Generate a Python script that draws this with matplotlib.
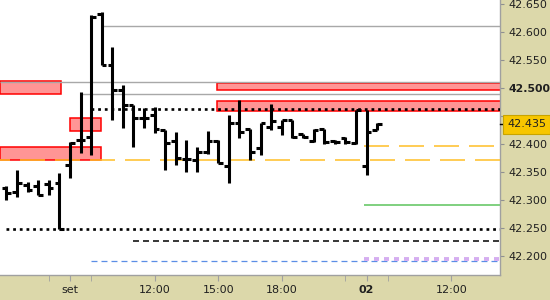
import numpy as np
import matplotlib
matplotlib.use("Agg")
import matplotlib.pyplot as plt
from matplotlib.patches import Rectangle

plt.rcParams["lines.scale_dashes"] = False

# barre da 30 minuti; indice 0 = prima barra del giorno "set"
idx = np.arange(-6, 30)
opens = [42.321, 42.314, 42.327, 42.325, 42.329, 42.330,
         42.362, 42.407, 42.412, 42.632, 42.541, 42.496, 42.470, 42.446, 42.452,
         42.425, 42.405, 42.373, 42.371, 42.386, 42.405, 42.361, 42.438, 42.427,
         42.393, 42.430, 42.430, 42.443, 42.418, 42.405, 42.427, 42.405, 42.411,
         42.402, 42.361, 42.425]
highs = [42.325, 42.354, 42.332, 42.336, 42.336, 42.348,
         42.404, 42.493, 42.630, 42.636, 42.573, 42.505, 42.470, 42.464, 42.466,
         42.425, 42.421, 42.407, 42.395, 42.423, 42.407, 42.452, 42.479, 42.427,
         42.438, 42.471, 42.443, 42.443, 42.418, 42.427, 42.427, 42.407, 42.413,
         42.461, 42.461, 42.437]
lows = [42.300, 42.305, 42.314, 42.309, 42.309, 42.248,
        42.339, 42.384, 42.380, 42.541, 42.443, 42.429, 42.395, 42.429, 42.420,
        42.354, 42.362, 42.350, 42.350, 42.382, 42.366, 42.330, 42.411, 42.371,
        42.380, 42.425, 42.416, 42.411, 42.411, 42.404, 42.400, 42.400, 42.400,
        42.400, 42.345, 42.425]
closes = [42.312, 42.330, 42.318, 42.309, 42.321, 42.248,
          42.402, 42.407, 42.627, 42.541, 42.496, 42.470, 42.446, 42.446, 42.427,
          42.402, 42.375, 42.373, 42.386, 42.405, 42.366, 42.438, 42.421, 42.386,
          42.438, 42.441, 42.443, 42.413, 42.413, 42.425, 42.404, 42.404, 42.404,
          42.461, 42.421, 42.435]

last_price = 42.435

tick_pos = [0, 8, 14, 20, 28, 36]
tick_lab = ["set", "12:00", "15:00", "18:00", "02", "12:00"]
minor_pos = [-2, 2, 26, 30]

y_ticks = [42.20, 42.25, 42.30, 42.35, 42.40, 42.45, 42.50, 42.55, 42.60, 42.65]

# zone rosse: (da, a, prezzo basso, prezzo alto)
zone = [(-6.6, -0.85, 42.489, 42.5125),
        (-6.6, 2.9, 42.3714, 42.3946),
        (0.0, 2.9, 42.4232, 42.4464),
        (13.9, 41.0, 42.4964, 42.5098),
        (13.9, 41.0, 42.4589, 42.4768)]

# livelli orizzontali: (inizio, prezzo)
grigi = [(2.9, 42.6107), (-6.6, 42.5107), (1.0, 42.4893)]
verde = (27.8, 42.2911)
punteggiati = [(2.0, 42.4616), (-6.0, 42.2482)]
tratteggio_nero = (6.0, 42.2268)
tratteggio_blu = (2.0, 42.191)
viola = (27.8, 42.1946)
arancio = [(-6.6, 42.3714, 10.8), (27.8, 42.3964, 0.0)]

x_min, x_max = -6.6, 40.6
x_end = 41.0

fig = plt.figure(figsize=(5.5, 3), dpi=100, facecolor="#dcd8aa")
ax = fig.add_axes([0, 25 / 300, 500 / 550, 275 / 300])
ax.set_facecolor("white")

for x0, x1, y0, y1 in zone:
    ax.add_patch(Rectangle((x0, y0), x1 - x0, y1 - y0, fc="#ff9595",
                           ec="#ff0000", lw=1.1, zorder=1))

for x0, y in grigi:
    ax.hlines(y, x0, x_end, color="#a8a8a8", lw=1.0, zorder=2)
ax.hlines(verde[1], verde[0], x_end, color="#5cc35c", lw=1.1, zorder=2)
for x0, y in punteggiati:
    ax.plot([x0, x_end], [y, y], color="black", lw=1.9,
            linestyle=(0, (2.0, 2.8)), zorder=3)
ax.plot([tratteggio_nero[0], x_end], [tratteggio_nero[1]] * 2, color="black",
        lw=1.1, linestyle=(0, (4.3, 2.9)), zorder=2)
ax.plot([tratteggio_blu[0], x_end], [tratteggio_blu[1]] * 2, color="#5b8ee6",
        lw=0.9, linestyle=(0, (4.3, 2.9)), zorder=2)
ax.plot([viola[0], x_end], [viola[1]] * 2, color="#d5aef0",
        lw=2.8, linestyle=(0, (3.6, 3.6)), zorder=2)
for x0, y, off in arancio:
    ax.plot([x0, x_end], [y, y], color="#ffbf26", lw=1.1,
            linestyle=(off, (18.0, 7.2)), zorder=3)

# barre OHLC
ax.vlines(idx, lows, highs, color="black", lw=2.2, zorder=4)
ax.hlines(opens, idx - 0.45, idx, color="black", lw=2.2, zorder=4)
ax.hlines(closes, idx, idx + 0.45, color="black", lw=2.2, zorder=4)

ax.set_xlim(x_min, x_max)
ax.set_ylim(42.1661, 42.6571)

ax.yaxis.tick_right()
ax.set_yticks(y_ticks)
# l'etichetta 42.450 resta coperta dal riquadro del prezzo corrente
ax.set_yticklabels(["" if abs(v - 42.45) < 1e-6 else f"{v:.3f}" for v in y_ticks])
ax.tick_params(axis="y", direction="out", length=3, color="#909090",
               labelsize=8, labelcolor="#202020", pad=3)
for lab in ax.get_yticklabels():
    if lab.get_text() == "42.500":
        lab.set_fontweight("bold")
        lab.set_fontsize(7.8)

ax.set_xticks(tick_pos)
ax.set_xticklabels(tick_lab)
ax.set_xticks(minor_pos, minor=True)
ax.tick_params(axis="x", which="both", direction="out", length=4,
               color="#a0a0a0", labelsize=8, labelcolor="#202020", pad=3)
for lab in ax.get_xticklabels():
    if lab.get_text() == "02":
        lab.set_fontweight("bold")

for s in ["top", "left"]:
    ax.spines[s].set_visible(False)
for s in ["right", "bottom"]:
    ax.spines[s].set_color("#a0a0a0")
    ax.spines[s].set_linewidth(1.0)

# prezzo corrente
trans = ax.get_yaxis_transform()
ax.plot([1.0, 1.01], [last_price, last_price], color="black", lw=1.0,
        transform=trans, clip_on=False, zorder=9)
ax.annotate(f"{last_price:.3f}", xy=(1.0, last_price), xycoords=trans,
            xytext=(5, 0), textcoords="offset points", va="center", ha="left",
            fontsize=8, color="#202020", annotation_clip=False, zorder=10,
            bbox=dict(boxstyle="square,pad=0.4", fc="#f7c600", ec="#c8a400", lw=0.8))

fig.savefig("out.png", dpi=100, facecolor=fig.get_facecolor())
